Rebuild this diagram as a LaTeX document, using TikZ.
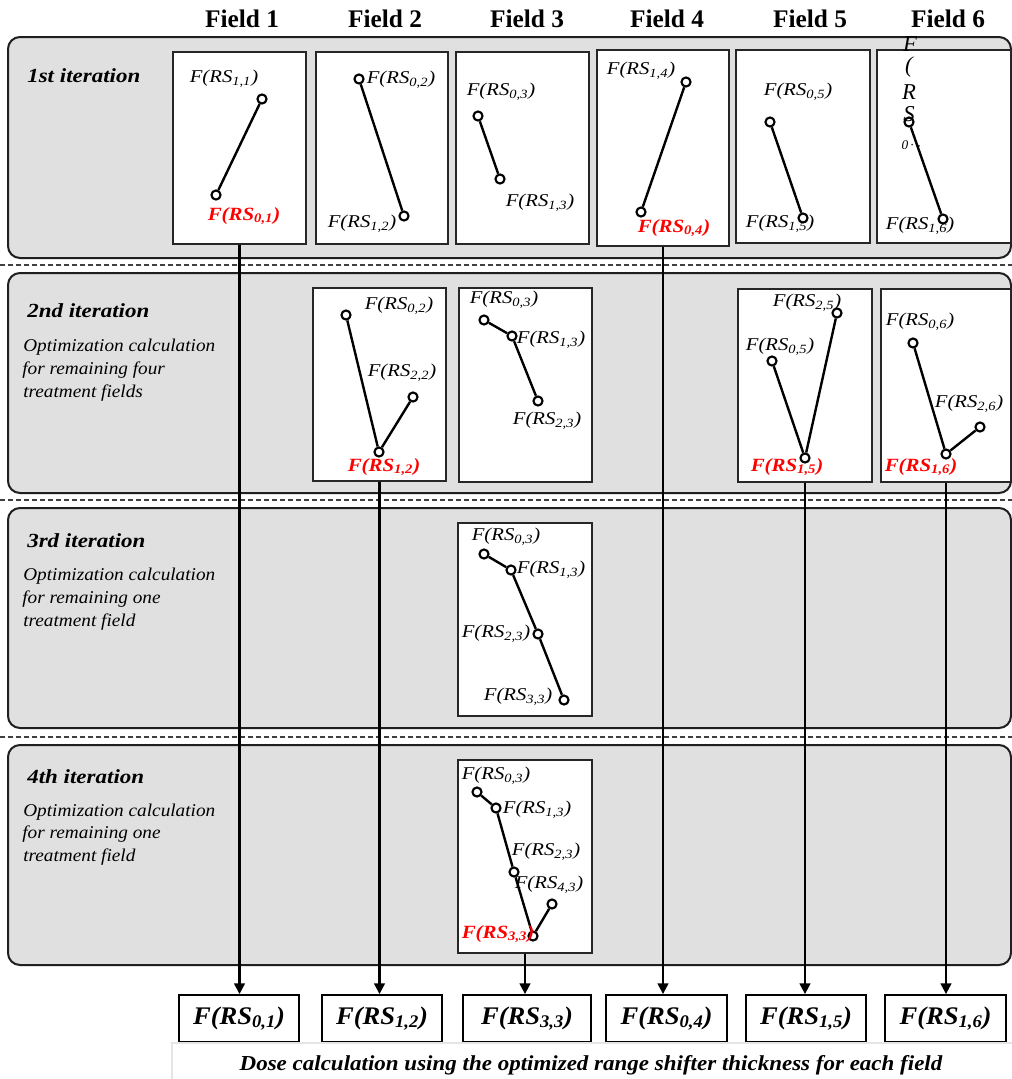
\documentclass[tikz,border=0pt]{standalone}
\usepackage{fontspec}
\setmainfont{Liberation Serif}
\usetikzlibrary{arrows.meta,fit}
\definecolor{panelgray}{RGB}{224,224,224}
\definecolor{hot}{RGB}{255,0,0}

% range-shifter labels
\newcommand{\rs}[1]{\scalebox{1.15}[1]{\fontsize{13.5}{15}\selectfont\itshape F(RS\textsubscript{#1})}}
\newcommand{\rsbest}[1]{\scalebox{1.12}[1]{\fontsize{14}{15}\selectfont\bfseries\itshape F(RS\textsubscript{#1})}}
\newcommand{\rsout}[1]{\scalebox{1.05}[1]{\fontsize{19}{21}\selectfont\bfseries\itshape F(RS\textsubscript{#1})}}

\tikzset{
  panel/.style={draw=black!88, fill=panelgray, line width=1.5pt, rounded corners=9pt, inner sep=0pt},
  sep/.style={draw=black!75, line width=1pt, dash pattern=on 4pt off 2pt},
  fieldbox/.style={draw=black!85, fill=white, line width=1.3pt, inner sep=0pt},
  outbox/.style={draw=black, fill=white, line width=1.4pt, inner sep=0pt, minimum height=35.25pt},
  link/.style={line width=1.8pt, black},
  dot/.style={circle, draw=black, fill=white, line width=1.6pt, inner sep=0pt, minimum size=6.8pt},
  lab/.style={inner sep=0pt},
  best/.style={inner sep=0pt, text=hot},
  head/.style={font=\fontsize{19}{21}\selectfont\bfseries, anchor=base},
  iter/.style={anchor=base west, inner sep=0pt},
  desc/.style={anchor=base west, inner sep=0pt},
  flow/.style={line width=1.6pt, -{Triangle[length=8pt,width=8pt]}},
}

\newcommand{\itertitle}[1]{\scalebox{1.15}[1]{\fontsize{15}{17}\selectfont\bfseries\itshape #1}}
\newcommand{\descline}[1]{\scalebox{1.07}[1]{\fontsize{13.5}{16}\selectfont\itshape #1}}

\begin{document}
\begin{tikzpicture}[x=0.75pt,y=-0.75pt]
\fill[white] (0,0) rectangle (1012,1079);
\useasboundingbox (0,0) rectangle (1012,1079);

% column headings
\node[head] (h1) at (242,27) {Field 1};
\node[head] (h2) at (385,27) {Field 2};
\node[head] (h3) at (527,27) {Field 3};
\node[head] (h4) at (667,27) {Field 4};
\node[head] (h5) at (810,27) {Field 5};
\node[head] (h6) at (948,27) {Field 6};

% iteration panels
\node[panel, fit={(8,37) (1011,258)}] (row1) {};
\node[panel, fit={(8,273) (1011,493)}] (row2) {};
\node[panel, fit={(8,508) (1011,728)}] (row3) {};
\node[panel, fit={(8,745) (1011,965)}] (row4) {};

% separators between iterations
\draw[sep] (0,265) -- (1012,265);
\draw[sep] (0,500) -- (1012,500);
\draw[sep] (0,737) -- (1012,737);

% iteration titles and descriptions
\node[iter] (t1) at (27,82) {\itertitle{1st iteration}};
\node[iter] (t2) at (27,317) {\itertitle{2nd iteration}};
\node[desc] (d21) at (23,351) {\descline{Optimization calculation}};
\node[desc] (d22) at (22,374) {\descline{for remaining four}};
\node[desc] (d23) at (23,397) {\descline{treatment fields}};
\node[iter] (t3) at (27,547) {\itertitle{3rd iteration}};
\node[desc] (d31) at (23,580) {\descline{Optimization calculation}};
\node[desc] (d32) at (22,603) {\descline{for remaining one}};
\node[desc] (d33) at (23,626) {\descline{treatment field}};
\node[iter] (t4) at (27,783) {\itertitle{4th iteration}};
\node[desc] (d41) at (23,816) {\descline{Optimization calculation}};
\node[desc] (d42) at (22,838) {\descline{for remaining one}};
\node[desc] (d43) at (23,861) {\descline{treatment field}};

% ---------- 1st iteration ----------
\node[fieldbox, fit={(173,52) (306,244)}] (b11) {};
\node[fieldbox, fit={(316,52) (448,244)}] (b12) {};
\node[fieldbox, fit={(456,52) (589,244)}] (b13) {};
\node[fieldbox, fit={(597,50) (729,246)}] (b14) {};
\node[fieldbox, fit={(736,50) (870,243)}] (b15) {};
\node[fieldbox, fit={(877,50) (1011,243)}] (b16) {};

\node[dot] (a1u) at (262,99) {};
\node[dot] (a1d) at (216,195) {};
\draw[link] (a1u) -- (a1d);
\node[lab] (la11) at (224,79) {\rs{1,1}};
\node[best] (la01) at (244,216) {\rsbest{0,1}};

\node[dot] (a2u) at (359,79) {};
\node[dot] (a2d) at (404,216) {};
\draw[link] (a2u) -- (a2d);
\node[lab] (la02) at (401,80) {\rs{0,2}};
\node[lab] (la12) at (362,224) {\rs{1,2}};

\node[dot] (a3u) at (478,116) {};
\node[dot] (a3d) at (500,179) {};
\draw[link] (a3u) -- (a3d);
\node[lab] (la03) at (501,92) {\rs{0,3}};
\node[lab] (la13) at (540,203) {\rs{1,3}};

\node[dot] (a4u) at (686,82) {};
\node[dot] (a4d) at (641,212) {};
\draw[link] (a4u) -- (a4d);
\node[lab] (la14) at (641,71) {\rs{1,4}};
\node[best] (la04) at (674,228) {\rsbest{0,4}};

\node[dot] (a5u) at (770,122) {};
\node[dot] (a5d) at (803,218) {};
\draw[link] (a5u) -- (a5d);
\node[lab] (la05) at (798,92) {\rs{0,5}};
\node[lab] (la15) at (780,224) {\rs{1,5}};

\node[dot] (a6u) at (909,122) {};
\node[dot] (a6d) at (943,219) {};
\draw[link] (a6u) -- (a6d);
\node[lab] (la16) at (920,226) {\rs{1,6}};
% label of the first point set one character per line
\begin{scope}[font=\fontsize{17}{18}\selectfont\itshape]
\node[lab] (v1) at (910,44) {F};
\node[lab] (v2) at (909,67) {(};
\node[lab] (v3) at (909,92) {R};
\node[lab] (v4) at (909,114) {S};
\end{scope}
\node[lab, font=\fontsize{10}{11}\selectfont\itshape] (v5) at (911,145) {0\,·\,-};

% ---------- 2nd iteration ----------
\node[fieldbox, fit={(313,288) (446,481)}] (b22) {};
\node[fieldbox, fit={(459,288) (592,482)}] (b23) {};
\node[fieldbox, fit={(738,289) (872,482)}] (b25) {};
\node[fieldbox, fit={(881,289) (1011,482)}] (b26) {};

\node[dot] (c2a) at (346,315) {};
\node[dot] (c2b) at (379,452) {};
\node[dot] (c2c) at (413,397) {};
\draw[link] (c2a) -- (c2b) -- (c2c);
\node[lab] (m02) at (399,306) {\rs{0,2}};
\node[lab] (m22) at (402,373) {\rs{2,2}};
\node[best] (m12) at (384,467) {\rsbest{1,2}};

\node[dot] (c3a) at (484,320) {};
\node[dot] (c3b) at (512,336) {};
\node[dot] (c3c) at (538,401) {};
\draw[link] (c3a) -- (c3b) -- (c3c);
\node[lab] (m03) at (504,300) {\rs{0,3}};
\node[lab] (m13) at (551,340) {\rs{1,3}};
\node[lab] (m23) at (547,421) {\rs{2,3}};

\node[dot] (c5a) at (772,361) {};
\node[dot] (c5b) at (805,458) {};
\node[dot] (c5c) at (837,313) {};
\draw[link] (c5a) -- (c5b) -- (c5c);
\node[lab] (m25) at (807,303) {\rs{2,5}};
\node[lab] (m05) at (780,347) {\rs{0,5}};
\node[best] (m15) at (787,467) {\rsbest{1,5}};

\node[dot] (c6a) at (913,343) {};
\node[dot] (c6b) at (946,454) {};
\node[dot] (c6c) at (980,427) {};
\draw[link] (c6a) -- (c6b) -- (c6c);
\node[lab] (m06) at (920,322) {\rs{0,6}};
\node[lab] (m26) at (969,404) {\rs{2,6}};
\node[best] (m16) at (921,467) {\rsbest{1,6}};

% ---------- 3rd iteration ----------
\node[fieldbox, fit={(458,523) (592,716)}] (b33) {};
\node[dot] (e0) at (484,554) {};
\node[dot] (e1) at (511,570) {};
\node[dot] (e2) at (538,634) {};
\node[dot] (e3) at (564,700) {};
\draw[link] (e0) -- (e1) -- (e2) -- (e3);
\node[lab] (n03) at (506,537) {\rs{0,3}};
\node[lab] (n13) at (551,570) {\rs{1,3}};
\node[lab] (n23) at (496,634) {\rs{2,3}};
\node[lab] (n33) at (518,697) {\rs{3,3}};

% ---------- 4th iteration ----------
\node[fieldbox, fit={(458,760) (592,953)}] (b43) {};
\node[dot] (f0) at (477,792) {};
\node[dot] (f1) at (496,808) {};
\node[dot] (f2) at (514,872) {};
\node[dot] (f3) at (533,936) {};
\node[dot] (f4) at (552,904) {};
\draw[link] (f0) -- (f1) -- (f2) -- (f3) -- (f4);
\node[lab] (k03) at (496,776) {\rs{0,3}};
\node[lab] (k13) at (537,810) {\rs{1,3}};
\node[lab] (k23) at (546,852) {\rs{2,3}};
\node[lab] (k43) at (549,885) {\rs{4,3}};
\node[best] (k33) at (498,934) {\rsbest{3,3}};

% ---------- optimized thickness per field ----------
\node[outbox, minimum width=90pt] (o1) at (239,1018.5) {\rsout{0,1}};
\node[outbox, minimum width=90pt] (o2) at (382,1018.5) {\rsout{1,2}};
\node[outbox, minimum width=96pt] (o3) at (527,1018.5) {\rsout{3,3}};
\node[outbox, minimum width=90.75pt] (o4) at (666.5,1018.5) {\rsout{0,4}};
\node[outbox, minimum width=90pt] (o5) at (806,1018.5) {\rsout{1,5}};
\node[outbox, minimum width=90.75pt] (o6) at (945.5,1018.5) {\rsout{1,6}};

% final results carried down to the dose calculation
\draw[flow] (b11.south) -- (b11.south |- o1.north);
\draw[flow] (b22.south) -- (b22.south |- o2.north);
\draw[flow] (b43.south) -- (b43.south |- o3.north);
\draw[flow] (b14.south) -- (b14.south |- o4.north);
\draw[flow] (b25.south) -- (b25.south |- o5.north);
\draw[flow] (b26.south) -- (b26.south |- o6.north);

% caption frame and text
\draw[black!10, line width=0.8pt] (1012,1043) -- (172,1043) -- (172,1079);
\node[anchor=base, inner sep=0pt] (cap) at (591,1070)
  {\resizebox{527pt}{\height}{\fontsize{16}{18}\selectfont\bfseries\itshape Dose calculation using the optimized range shifter thickness for each field}};
\end{tikzpicture}
\end{document}
